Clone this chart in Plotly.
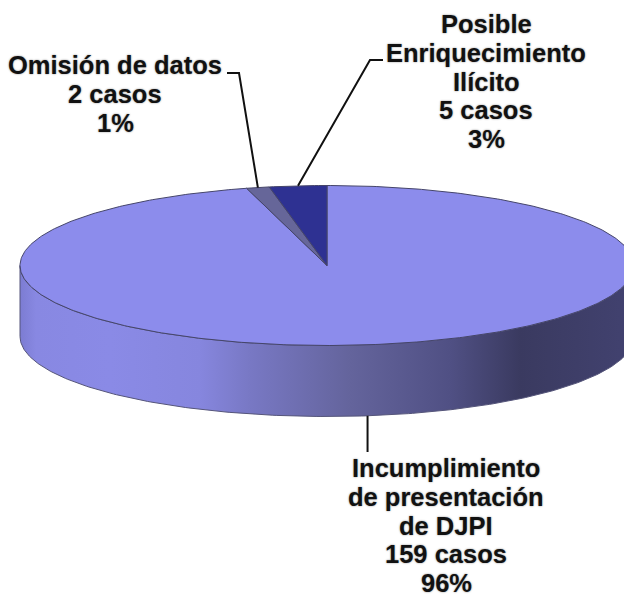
import numpy as np
import plotly.graph_objects as go

# Data
categories = [["Incumplimiento", "de presentación", "de DJPI"], ["Omisión de datos"], ["Posible", "Enriquecimiento", "Ilícito"]]
cases = [159, 2, 5]
percents = ["96%", "1%", "3%"]
slice_colors = ["#8C8CEC", "#666699", "#2E3192"]

# Drawing geometry (pixel-like axis units)
CX, CY, RX, RY, DEPTH = 327.0, 265.5, 307.0, 80.0, 71.0
grad_x = [20, 36, 110, 200, 250, 350, 450, 520, 634]
grad_c = ["#7C7CD2", "#8888E2", "#8A8AE6", "#8686DE", "#7878C4", "#64649C", "#505084", "#3A3A60", "#424270"]

total = sum(cases)
edges = np.cumsum([0] + cases) / total * 2 * np.pi


def ex(t):
    return CX + RX * np.sin(t)


def ey(t, dz=0.0):
    return CY - RY * np.cos(t) + dz


fig = go.Figure()

# Side wall (front half of the rim) with horizontal shading
t = np.linspace(np.pi / 2, 3 * np.pi / 2, 240)
side_x = np.r_[ex(t), ex(t[::-1])]
side_y = np.r_[ey(t), ey(t[::-1], DEPTH)]
scale = [[(x - grad_x[0]) / (grad_x[-1] - grad_x[0]), c] for x, c in zip(grad_x, grad_c)]
fig.add_trace(go.Scatter(
    x=side_x, y=side_y, mode="lines", fill="toself",
    line=dict(color="#55557A", width=1),
    fillgradient=dict(type="horizontal", colorscale=scale),
    hoverinfo="skip", showlegend=False,
))

# Top face slices
for i in range(len(cases)):
    a = np.linspace(edges[i], edges[i + 1], max(int((edges[i + 1] - edges[i]) * 80), 6))
    fig.add_trace(go.Scatter(
        x=np.r_[CX, ex(a), CX], y=np.r_[CY, ey(a), CY], mode="lines", fill="toself",
        fillcolor=slice_colors[i], line=dict(color="#45456A", width=1),
        hoverinfo="skip", showlegend=False,
    ))

# Leader lines: each starts at its slice's mid angle on the rim
mid = (edges[:-1] + edges[1:]) / 2
leaders = [
    ([ex(mid[0]), ex(mid[0])], [ey(mid[0], DEPTH), 452]),
    ([ex(mid[1]), 239, 227], [ey(mid[1]), 73, 73]),
    ([ex(mid[2]), 370, 383], [ey(mid[2]), 60, 60]),
]
for lx, ly in leaders:
    fig.add_trace(go.Scatter(x=lx, y=ly, mode="lines", line=dict(color="#111111", width=2),
                             hoverinfo="skip", showlegend=False))

# Labels, one annotation per line so that the tight line pitch of the original is kept
label_pos = [(446, 468), (115, 65), (486, 24)]
LINE_STEP = 28.8
for name, n, p, (lx, ly) in zip(categories, cases, percents, label_pos):
    for k, line in enumerate(name + [f"{n} casos", p]):
        fig.add_annotation(
            x=lx, y=ly + k * LINE_STEP, text=line, showarrow=False,
            font=dict(family="Liberation Sans, Arial, sans-serif", size=25.5, color="#111111",
                      weight="bold", shadow="0 0 2px #888888"),
            align="center", xanchor="center", yanchor="middle",
        )

fig.update_xaxes(range=[0, 624], visible=False, fixedrange=True)
fig.update_yaxes(range=[594, 0], visible=False, fixedrange=True)
fig.update_layout(width=624, height=594, margin=dict(l=0, r=0, t=0, b=0),
                  paper_bgcolor="white", plot_bgcolor="white", showlegend=False)
fig.write_html("out.html", config={"displayModeBar": False},
               post_script="document.body.style.margin='0';document.body.style.overflow='hidden';")
